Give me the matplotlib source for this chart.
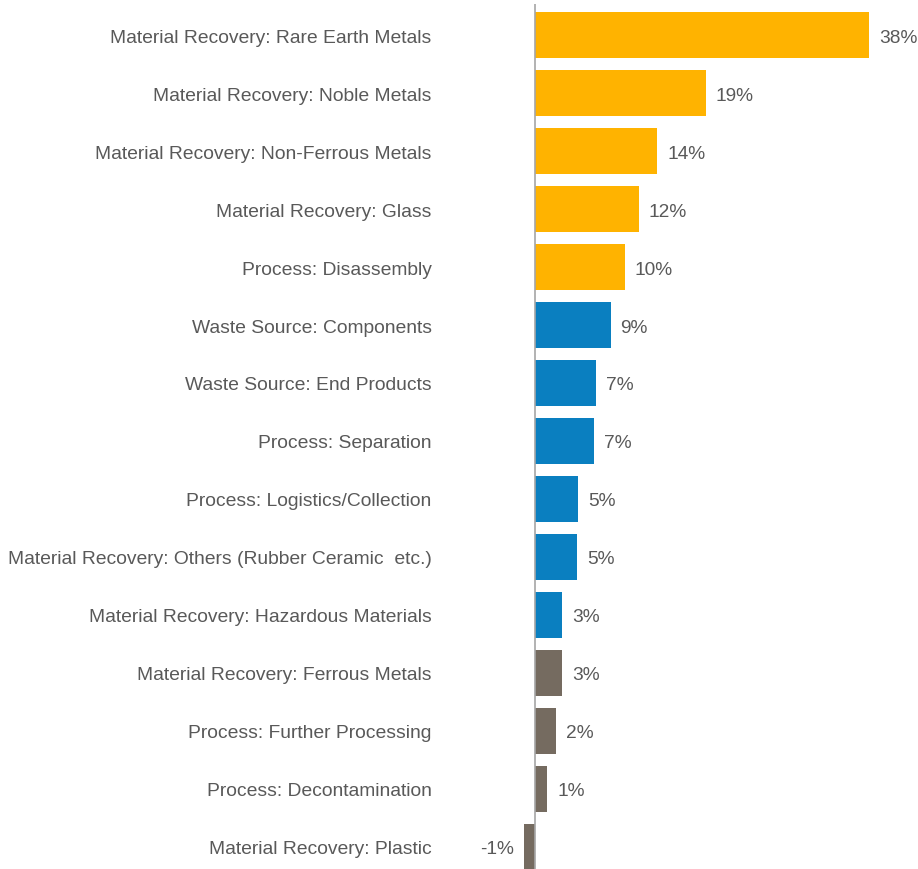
import matplotlib
matplotlib.use('Agg')
import matplotlib.pyplot as plt
from matplotlib import font_manager

# data
categories = [
    'Material Recovery: Rare Earth Metals',
    'Material Recovery: Noble Metals',
    'Material Recovery: Non-Ferrous Metals',
    'Material Recovery: Glass',
    'Process: Disassembly',
    'Waste Source: Components',
    'Waste Source: End Products',
    'Process: Separation',
    'Process: Logistics/Collection',
    'Material Recovery: Others (Rubber Ceramic  etc.)',
    'Material Recovery: Hazardous Materials',
    'Material Recovery: Ferrous Metals',
    'Process: Further Processing',
    'Process: Decontamination',
    'Material Recovery: Plastic',
]
values = [38.0, 19.4, 13.9, 11.8, 10.2, 8.6, 6.9, 6.7, 4.9, 4.8, 3.1, 3.1, 2.4, 1.4, -1.3]
groups = ['top'] * 5 + ['mid'] * 6 + ['low'] * 4

group_colors = {'top': '#FFB300', 'mid': '#0A7FC0', 'low': '#756B60'}
text_grey = '#595959'

names = {f.name for f in font_manager.fontManager.ttflist}
fam = 'Liberation Sans Narrow' if 'Liberation Sans Narrow' in names else 'Liberation Sans'
plt.rcParams['font.family'] = [fam, 'DejaVu Sans']

fig = plt.figure(figsize=(9.18, 8.70), dpi=100)
ax = fig.add_axes([440 / 918, 0, 1 - 440 / 918, 1 - 5 / 870])

ypos = list(range(len(categories)))
colors = [group_colors[g] for g in groups]
ax.barh(ypos, values, height=0.79, color=colors)

px = 8.79  # pixels per percent
ax.set_xlim((440 - 535) / px, (918 - 535) / px)
ax.set_ylim((870 - 36) / 58, -31 / 58)

for y, v in zip(ypos, values):
    off = 10 / px
    if v >= 0:
        ax.text(v + off, y, f"{v:.0f}%", va='center_baseline', ha='left', fontsize=13.8, color=text_grey)
    else:
        ax.text(v - off, y, f"{v:.0f}%", va='center_baseline', ha='right', fontsize=13.8, color=text_grey)

ax.set_yticks(ypos)
ax.set_yticklabels(categories, fontsize=13.9, color=text_grey, va='center_baseline')
ax.tick_params(axis='y', length=0, pad=6)
ax.set_xticks([])
for s in ['top', 'right', 'bottom', 'left']:
    ax.spines[s].set_visible(False)
ax.axvline(0, color='#A6A6A6', lw=1.2)

fig.savefig('out.png', dpi=100)
